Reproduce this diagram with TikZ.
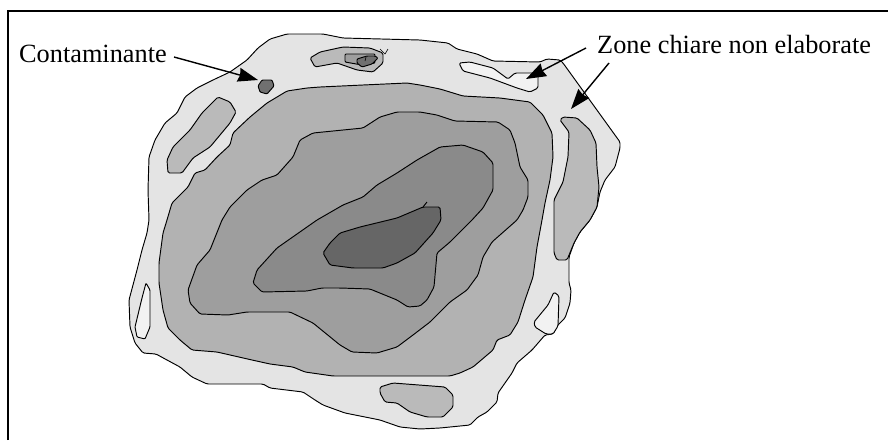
\documentclass[tikz,border=0pt]{standalone}
\usepackage{fontspec}
\setmainfont{Liberation Serif}
\usetikzlibrary{arrows.meta}
\definecolor{ZoneOuter}{RGB}{228,228,228}
\definecolor{ZoneOne}{RGB}{178,178,178}
\definecolor{ZoneTwo}{RGB}{158,158,158}
\definecolor{ZoneThree}{RGB}{138,138,138}
\definecolor{ZoneCore}{RGB}{102,102,102}
\definecolor{ZoneIsland}{RGB}{186,186,186}
\definecolor{ZoneBlank}{RGB}{242,242,242}
\definecolor{ZoneSpot}{RGB}{112,112,112}

\begin{document}
\begin{tikzpicture}[x=1pt, y=-1pt,
    zone/.style={draw=black, line width=0.95pt, line join=round, rounded corners=1.5pt},
    frameline/.style={draw=black, line width=1.5pt},
    lbl/.style={anchor=base west, inner sep=0pt, font=\fontsize{26.3}{30}\selectfont},
    arr/.style={-{Stealth[length=20pt, width=14pt, inset=1.5pt]}, line width=1.4pt, black}
  ]
    \useasboundingbox (0,0) rectangle (888,440);

    % Frame, only two sides of it show
    \draw[frameline] (8,440) -- (8,11) -- (888,11);

    % Outer light area
    \draw[zone, fill=ZoneOuter] (149,220) -- (148,190) -- (149,157) -- (155,140) -- (165,123) -- (177,113) -- (185,97) -- (197,88) -- (213,80) -- (230,72) -- (247,60) -- (258,48) -- (270,39) -- (287,34) -- (323,34) -- (343,38) -- (420,40) -- (448,43) -- (457,49) -- (477,54) -- (493,61) -- (540,62) -- (547,59) -- (560,60) -- (563,63) -- (620,142) -- (620,148) -- (615,167) -- (605,180) -- (600,192) -- (597,207) -- (590,220) -- (580,232) -- (574,243) -- (569,257) -- (569,283) -- (571,290) -- (570,303) -- (565,318) -- (557,326) -- (553,334) -- (545,335) -- (532,350) -- (517,363) -- (512,373) -- (505,383) -- (498,393) -- (497,402) -- (487,412) -- (478,417) -- (470,425) -- (440,428) -- (420,429) -- (400,427) -- (380,420) -- (345,413) -- (323,405) -- (315,400) -- (303,392) -- (270,388) -- (263,384) -- (207,384) -- (192,377) -- (180,367) -- (167,360) -- (156,354) -- (143,353) -- (135,343) -- (130,327) -- (129,300) -- (137,270) -- (142,250) -- (147,233) -- cycle;

    % Nested levels
    \draw[zone, fill=ZoneOne] (167,220) -- (172,203) -- (188,187) -- (195,173) -- (205,170) -- (217,157) -- (230,145) -- (233,133) -- (250,117) -- (267,103) -- (287,91) -- (307,88) -- (320,87) -- (363,85) -- (407,83) -- (420,85) -- (440,89) -- (463,96) -- (500,98) -- (530,102) -- (543,115) -- (552,133) -- (553,157) -- (550,180) -- (545,203) -- (542,220) -- (537,247) -- (533,277) -- (525,300) -- (518,322) -- (510,335) -- (497,340) -- (493,350) -- (473,367) -- (460,373) -- (450,376) -- (333,376) -- (305,372) -- (293,367) -- (270,364) -- (252,360) -- (217,352) -- (192,350) -- (180,340) -- (168,328) -- (163,310) -- (159,283) -- (159,263) -- (163,233) -- cycle;
    \draw[zone, fill=ZoneTwo] (222,220) -- (230,207) -- (247,190) -- (262,180) -- (277,175) -- (293,157) -- (300,140) -- (313,133) -- (343,130) -- (363,128) -- (380,117) -- (397,112) -- (420,112) -- (437,115) -- (455,121) -- (498,122) -- (510,130) -- (515,143) -- (520,167) -- (528,180) -- (528,197) -- (523,210) -- (517,220) -- (492,242) -- (483,257) -- (478,275) -- (467,290) -- (450,302) -- (430,322) -- (413,335) -- (397,347) -- (377,353) -- (352,352) -- (340,345) -- (313,323) -- (290,312) -- (247,312) -- (228,315) -- (200,314) -- (190,303) -- (188,290) -- (197,265) -- (210,250) -- cycle;
    \draw[zone, fill=ZoneThree] (317,220) -- (343,205) -- (363,197) -- (377,185) -- (397,173) -- (417,160) -- (440,147) -- (463,145) -- (483,152) -- (493,163) -- (493,190) -- (483,208) -- (472,220) -- (450,242) -- (437,253) -- (434,287) -- (427,300) -- (420,306) -- (408,307) -- (397,300) -- (370,289) -- (340,288) -- (322,288) -- (307,291) -- (262,292) -- (253,283) -- (257,270) -- (277,248) -- cycle;
    \draw[zone, fill=ZoneCore] (323,253) -- (330,243) -- (340,233) -- (360,227) -- (397,218) -- (423,207) -- (440,207) -- (441,220) -- (433,233) -- (415,253) -- (397,263) -- (383,268) -- (353,268) -- (330,265) -- cycle;
    \draw[line width=0.9pt] (423,207) -- (427,202);

    % Grey islands
    \draw[zone, fill=ZoneIsland] (218,97) -- (230,102) -- (236,112) -- (230,123) -- (220,135) -- (210,147) -- (193,158) -- (182,173) -- (168,173) -- (167,160) -- (173,147) -- (190,130) -- (202,113) -- cycle;
    \draw[zone, fill=ZoneIsland] (560,120) -- (563,117) -- (577,118) -- (590,130) -- (596,143) -- (597,167) -- (599,187) -- (597,207) -- (590,220) -- (580,232) -- (574,243) -- (567,260) -- (557,260) -- (554,253) -- (554,200) -- (563,182) -- (568,157) -- (569,132) -- cycle;
    \draw[zone, fill=ZoneIsland] (380,387) -- (393,383) -- (445,387) -- (453,395) -- (453,407) -- (443,417) -- (427,417) -- (410,412) -- (397,403) -- (385,402) -- (380,393) -- cycle;

    % Top island with its small levels
    \draw[zone, fill=ZoneIsland] (310,58) -- (320,52) -- (343,47) -- (370,48) -- (383,53) -- (383,63) -- (373,72) -- (357,70) -- (337,63) -- (315,67) -- cycle;
    \draw[zone, rounded corners=1pt, fill=ZoneTwo] (345,54) -- (375,54) -- (375,63) -- (362,65) -- (345,62) -- cycle;
    \draw[zone, rounded corners=1pt, fill=ZoneSpot] (357,59) -- (367,56) -- (375,56) -- (378,58) -- (372,64) -- (362,67) -- (357,63) -- cycle;
    \draw[line width=0.6pt] (380,49) -- (385,54) -- (388,49);
    \draw[line width=0.6pt] (366,57) -- (365,61);

    % Unprocessed light zones
    \draw[zone, fill=ZoneBlank] (459,63) -- (470,62) -- (493,68) -- (508,79) -- (515,73) -- (538,73) -- (538,88) -- (530,92) -- (517,88) -- (490,78) -- (463,71) -- cycle;
    \draw[zone, fill=ZoneBlank] (554,292) -- (559,296) -- (558,326) -- (553,334) -- (546,334) -- (535,327) -- (534,322) -- (548,305) -- cycle;
    \draw[zone, rounded corners=1pt, fill=ZoneBlank] (146,283) -- (150,290) -- (150,327) -- (145,339) -- (137,337) -- (135,327) -- (142,298) -- cycle;

    % Contaminant spot
    \draw[zone, rounded corners=1pt, fill=ZoneSpot] (262,80) -- (272,80) -- (274,86) -- (267,94) -- (260,92) -- (258,86) -- cycle;

    % Labels and arrows
    \node[lbl] (contam) at (19,62) {Contaminante};
    \node[lbl] (zones) at (597,53) {Zone chiare non elaborate};
    \coordinate (contamFrom) at (174,57);
    \coordinate (contamTip) at (258,80);
    \coordinate (zoneFromA) at (586,48);
    \coordinate (zoneTipA) at (526,79);
    \coordinate (zoneFromB) at (609,63);
    \coordinate (zoneTipB) at (571,109);
    \draw[arr] (contamFrom) -- (contamTip);
    \draw[arr] (zoneFromA) -- (zoneTipA);
    \draw[arr] (zoneFromB) -- (zoneTipB);
  \end{tikzpicture}
\end{document}
